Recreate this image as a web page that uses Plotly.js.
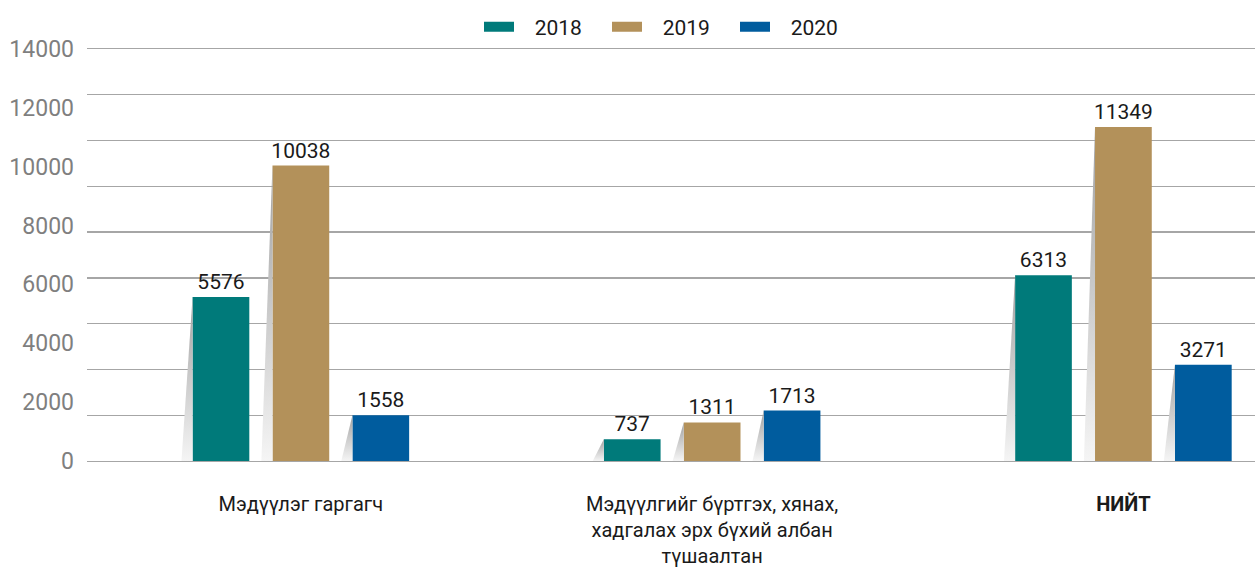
<!DOCTYPE html>
<html>
<head>
<meta charset="utf-8">
<script src="https://cdn.plot.ly/plotly-3.0.1.min.js"></script>
<style>
html,body{margin:0;padding:0;background:#fff;}
#chart{width:1255px;height:577px;}
</style>
</head>
<body>
<div id="chart"></div>
<script>
var categories = [
  "Мэдүүлэг гаргагч",
  "Мэдүүлгийг бүртгэх, хянах,<br>хадгалах эрх бүхий албан<br>түшаалтан",
  "<b>НИЙТ</b>"
];
var years = ["2018", "2019", "2020"];
var values2018 = [5576, 737, 6313];
var values2019 = [10038, 1311, 11349];
var values2020 = [1558, 1713, 3271];
var colors = ["#007a7a", "#b3915a", "#005c9e"];

var FONT = 'Roboto, "Liberation Sans", sans-serif';
var series = [values2018, values2019, values2020];
var positions = categories.map(function (c, i) { return i; });

var BARGAP = 0.417, GROUPGAP = 0.29;
var slot = (1 - BARGAP) / series.length;
var barW = slot * (1 - GROUPGAP);
var shadowRun = 0.027;
var YMAX = 14000;

var traces = [];

// soft shadows beside each bar (built from the data arrays)
series.forEach(function (vals, s) {
  vals.forEach(function (v, i) {
    var left = positions[i] + (s - (series.length - 1) / 2) * slot - barW / 2;
    traces.push({
      type: "scatter",
      mode: "none",
      x: [left, left, left - shadowRun, left],
      y: [v, 0, 0, v],
      fill: "toself",
      fillgradient: {
        type: "vertical",
        colorscale: [[0, "rgba(245,245,245,1)"], [1, "rgba(160,160,160,1)"]]
      },
      showlegend: false,
      hoverinfo: "skip"
    });
  });
});

series.forEach(function (vals, i) {
  traces.push({
    type: "bar",
    name: years[i],
    x: positions,
    y: vals,
    marker: { color: colors[i] },
    text: vals.map(String),
    textposition: "outside",
    constraintext: "none",
    textfont: { family: FONT, size: 21, color: "#1a1a1a" },
    cliponaxis: false,
    showlegend: false,
    hoverinfo: "x+y"
  });
});

// legend entries (wide swatches)
series.forEach(function (vals, i) {
  traces.push({
    type: "scatter",
    mode: "lines",
    name: "\u00a0\u00a0\u00a0" + years[i],
    x: [null],
    y: [null],
    line: { color: colors[i], width: 21 },
    showlegend: true,
    hoverinfo: "skip"
  });
});

var layout = {
  width: 1255,
  height: 577,
  margin: { l: 87, r: 0, t: 49, b: 116 },
  paper_bgcolor: "#ffffff",
  plot_bgcolor: "#ffffff",
  font: { family: FONT, size: 21, color: "#1a1a1a" },
  barmode: "group",
  bargap: BARGAP,
  bargroupgap: GROUPGAP,
  showlegend: true,
  legend: {
    orientation: "h",
    x: 0.5, xanchor: "center", xref: "paper",
    y: 0.953, yanchor: "middle", yref: "container",
    font: { family: FONT, size: 21, color: "#1a1a1a" },
    entrywidth: 83,
    traceorder: "normal"
  },
  xaxis: {
    type: "linear",
    range: [-0.52, 2.32],
    tickmode: "array",
    tickvals: positions,
    ticktext: categories,
    showgrid: false,
    zeroline: false,
    showline: true,
    mirror: true,
    linecolor: "#a6a6a6",
    linewidth: 1.3,
    ticks: "",
    ticklabelstandoff: 25,
    tickfont: { family: FONT, size: 20, color: "#1a1a1a" },
    fixedrange: true
  },
  yaxis: {
    range: [0, YMAX],
    dtick: 2000,
    tick0: 0,
    tickformat: "d",
    showgrid: false,
    zeroline: false,
    showline: false,
    ticks: "",
    ticklabelstandoff: 12,
    tickfont: { family: FONT, size: 23, color: "#7f7f7f" },
    minor: {
      tickmode: "array",
      tickvals: [0, 1, 2, 3, 4, 5, 6, 7, 8, 9].map(function (k) { return k * YMAX / 9; }),
      showgrid: true, gridcolor: "#a6a6a6", gridwidth: 1.3, ticks: ""
    },
    fixedrange: true
  }
};

Plotly.newPlot("chart", traces, layout, { displayModeBar: false, staticPlot: true });
</script>
</body>
</html>
